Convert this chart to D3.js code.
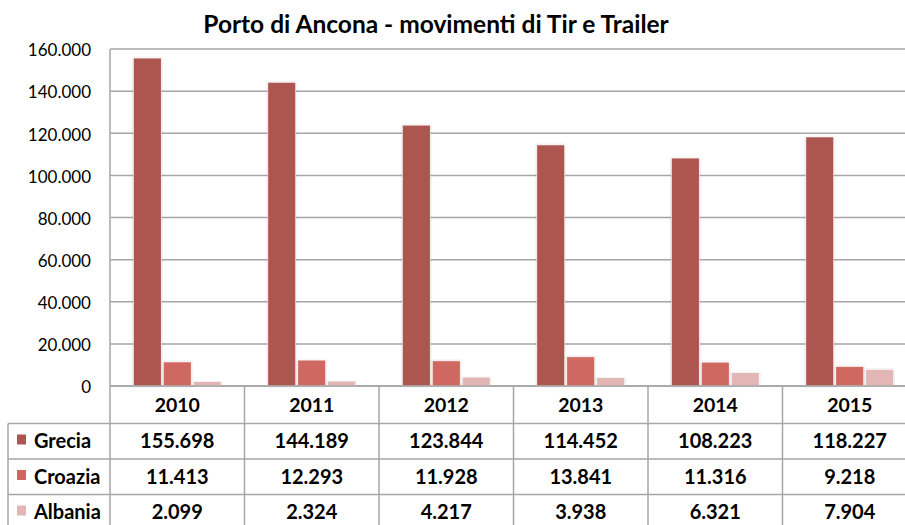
<!DOCTYPE html>
<html>
<head>
	<meta charset="utf-8">
	<title>Porto di Ancona - movimenti di Tir e Trailer</title>
	<style type="text/css">
	body{
		margin:0;
		background:#fff;
	}
	text{
		font-family:Lato, "Open Sans", sans-serif;
		fill:#000;
	}
	.grid line{
		stroke:#a6a6a6;
		stroke-width:1.5;
	}
	.table line{
		stroke:#a6a6a6;
		stroke-width:1.5;
	}
	</style>
	<script type="text/javascript" src="https://cdn.jsdelivr.net/npm/d3@7"></script>
</head>
<body>
<script type="text/javascript">
	var width = 905;
	var height = 525;

	// dati
	var anni = ["2010", "2011", "2012", "2013", "2014", "2015"];
	var serie = ["Grecia", "Croazia", "Albania"];
	var grecia  = [155698, 144189, 123844, 114452, 108223, 118227];
	var croazia = [11413, 12293, 11928, 13841, 11316, 9218];
	var albania = [2099, 2324, 4217, 3938, 6321, 7904];
	var yTicks = [0, 20000, 40000, 60000, 80000, 100000, 120000, 140000, 160000];
	var colori = ["#ad5550", "#cf6760", "#e2b6b4"];

	var valori = [grecia, croazia, albania];

	var plotLeft = 110, plotRight = 917, plotTop = 49, plotBottom = 386;
	var rowH = 35.5, headH = 37.5, tableLeft = 8;

	var svg = d3.select("body")
				.append("svg")
				.attr("width", width)
				.attr("height", height);

	var fmt = d3.formatLocale({decimal: ",", thousands: ".", grouping: [3], currency: ["€", ""]}).format(",d");

	var x0 = d3.scaleBand()
			.domain(anni)
			.range([plotLeft, plotRight]);

	var x1 = d3.scaleBand()
			.domain(serie)
			.range([0, x0.bandwidth()])
			.paddingInner(0.07)
			.paddingOuter(0.78);

	var y = d3.scaleLinear()
			.domain([0, 160000])
			.range([plotBottom, plotTop]);

	var color = d3.scaleOrdinal()
				.domain(serie)
				.range(colori);

	//titolo
	svg.append("text")
		.attr("x", 436)
		.attr("y", 33)
		.attr("text-anchor", "middle")
		.style("font-size", "24.5px")
		.style("font-weight", "bold")
		.text("Porto di Ancona - movimenti di Tir e Trailer");

	//griglia
	var grid = svg.append("g").attr("class", "grid");
	grid.selectAll("line")
		.data(yTicks)
		.enter()
		.append("line")
		.attr("x1", plotLeft)
		.attr("x2", plotRight)
		.attr("y1", function(d){return y(d);})
		.attr("y2", function(d){return y(d);});
	grid.append("line")
		.attr("x1", plotLeft).attr("x2", plotLeft)
		.attr("y1", plotTop).attr("y2", plotBottom);

	//asse y
	var yAxis = svg.append("g")
			.attr("transform", "translate(" + (plotLeft - 19) + ",0)")
			.call(d3.axisLeft(y).tickValues(yTicks).tickSize(0).tickPadding(0).tickFormat(fmt));
	yAxis.select(".domain").remove();
	yAxis.selectAll("text")
		.style("font-family", "Lato, sans-serif")
		.style("font-size", "17px")
		.attr("dy", "0.4em");

	//barre
	var ombra = svg.append("defs").append("filter")
			.attr("id", "ombra")
			.attr("x", "-20%").attr("y", "-5%").attr("width", "140%").attr("height", "110%");
	ombra.append("feDropShadow")
		.attr("dx", 0).attr("dy", 0)
		.attr("stdDeviation", 1.2)
		.attr("flood-color", "#000")
		.attr("flood-opacity", 0.18);

	var gruppi = svg.append("g")
				.selectAll("g")
				.data(anni)
				.enter()
				.append("g")
				.attr("transform", function(d){return "translate(" + x0(d) + ",0)";});

	gruppi.selectAll("rect")
		.data(function(d, i){
			return serie.map(function(s, j){return {serie: s, value: valori[j][i]};});
		})
		.enter()
		.append("rect")
		.attr("x", function(d){return x1(d.serie);})
		.attr("width", x1.bandwidth())
		.attr("y", function(d){return y(d.value);})
		.attr("height", function(d){return plotBottom - y(d.value);})
		.attr("fill", function(d){return color(d.serie);})
		.attr("stroke", "#fff")
		.attr("stroke-width", 0.6)
		.attr("filter", "url(#ombra)");

	//tabella dati
	var tab = svg.append("g").attr("class", "table");
	var tableBottom = plotBottom + headH + rowH * serie.length;

	tab.append("line")
		.attr("x1", plotLeft).attr("x2", plotRight)
		.attr("y1", plotBottom).attr("y2", plotBottom);
	tab.selectAll(".hl")
		.data(d3.range(serie.length + 1))
		.enter()
		.append("line")
		.attr("class", "hl")
		.attr("x1", tableLeft).attr("x2", plotRight)
		.attr("y1", function(d){return plotBottom + headH + d * rowH;})
		.attr("y2", function(d){return plotBottom + headH + d * rowH;});
	tab.selectAll(".vl")
		.data(anni)
		.enter()
		.append("line")
		.attr("class", "vl")
		.attr("x1", function(d){return x0(d);})
		.attr("x2", function(d){return x0(d);})
		.attr("y1", plotBottom).attr("y2", tableBottom);
	tab.append("line")
		.attr("x1", tableLeft).attr("x2", tableLeft)
		.attr("y1", plotBottom + headH).attr("y2", tableBottom);

	//anni
	tab.selectAll(".anno")
		.data(anni)
		.enter()
		.append("text")
		.attr("class", "anno")
		.attr("x", function(d){return x0(d) + x0.bandwidth() / 2;})
		.attr("y", plotBottom + headH / 2 + 7)
		.attr("text-anchor", "middle")
		.style("font-size", "19.5px")
		.style("font-weight", "bold")
		.text(function(d){return d;});

	//righe
	var righe = tab.selectAll(".riga")
				.data(serie)
				.enter()
				.append("g")
				.attr("class", "riga")
				.attr("transform", function(d, i){return "translate(0," + (plotBottom + headH + i * rowH) + ")";});

	righe.append("rect")
		.attr("x", 17)
		.attr("y", 11)
		.attr("width", 9)
		.attr("height", 10)
		.attr("fill", function(d){return color(d);});

	righe.append("text")
		.attr("x", 34)
		.attr("y", rowH / 2 + 7)
		.style("font-size", "20px")
		.style("font-weight", "bold")
		.text(function(d){return d;});

	righe.selectAll(".val")
		.data(function(d, j){return valori[j];})
		.enter()
		.append("text")
		.attr("class", "val")
		.attr("x", function(d, i){return x0(anni[i]) + x0.bandwidth() / 2;})
		.attr("y", rowH / 2 + 7)
		.attr("text-anchor", "middle")
		.style("font-size", "20px")
		.style("font-weight", "bold")
		.text(function(d){return fmt(d);});
</script>
</body>
</html>
